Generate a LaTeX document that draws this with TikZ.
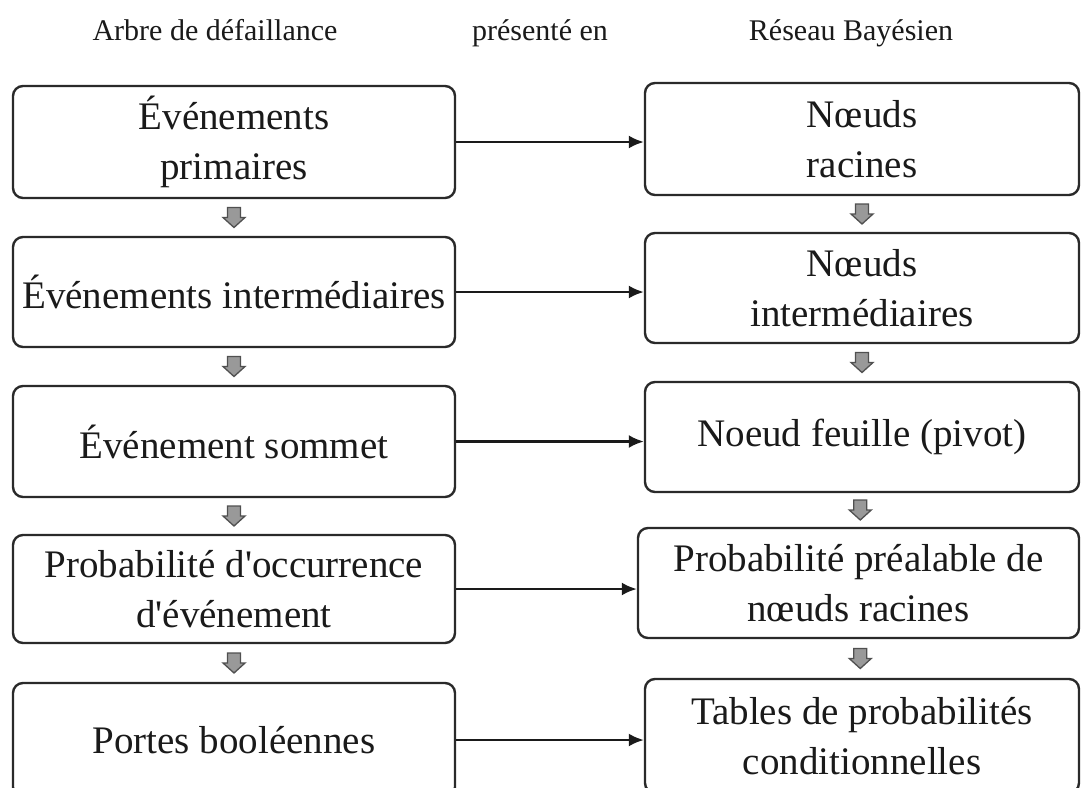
\documentclass[tikz,border=0pt]{standalone}
\usepackage{fontspec}
\setmainfont{Liberation Serif}
\usetikzlibrary{arrows.meta,calc}

\definecolor{inkc}{HTML}{1A1A1A}
\definecolor{framec}{HTML}{2A2A2A}
\definecolor{blockfill}{HTML}{999999}
\definecolor{blockline}{HTML}{505050}

\newcommand\boxtextfont{\fontsize{39}{50}\selectfont}
\newcommand\headfont{\fontsize{30}{36}\selectfont}
\newcommand\apos{\textquotesingle}

\tikzset{
  stepbox/.style={draw=framec, line width=2.4pt, rounded corners=10pt,
    align=center, font=\boxtextfont, text=inkc, inner sep=0pt},
  headtext/.style={font=\headfont, text=inkc, anchor=base, inner sep=0pt},
  downblock/.style={draw=blockline, fill=blockfill, line width=1.3pt,
    line join=miter},
  maps/.style={draw=inkc, line width=2.4pt, -{Latex[length=15pt,width=13pt]}}
}

\begin{document}
\begin{tikzpicture}[x=1pt, y=-1pt]
  \useasboundingbox (0,0) rectangle (1081,787);
  \fill[white] (0,0) rectangle (1081,787);
  \clip (0,0) rectangle (1081,787);

  % column headings
  \node[headtext] (hleft)  at (215,40) {Arbre de défaillance};
  \node[headtext] (hmid)   at (540,40) {présenté en};
  \node[headtext] (hright) at (851,40) {Réseau Bayésien};

  % fault tree column
  \node[stepbox, minimum width=442pt, minimum height=112pt] (l1) at (234,142)
    {Événements\\primaires};
  \node[stepbox, minimum width=442pt, minimum height=110pt] (l2) at (234,292)
    {Événements intermédiaires};
  \node[stepbox, minimum width=442pt, minimum height=111pt] (l3) at (234,441.5)
    {Événement sommet};
  \node[stepbox, minimum width=442pt, minimum height=108pt] (l4) at (234,589)
    {\fontsize{39}{45}\selectfont Probabilité d\apos occurrence\\d\apos événement};
  \node[stepbox, minimum width=442pt, minimum height=114pt] (l5) at (234,740)
    {Portes booléennes};

  % Bayesian network column
  \node[stepbox, minimum width=434pt, minimum height=112pt] (r1) at (862,139)
    {\fontsize{39}{54}\selectfont Nœuds\\racines};
  \node[stepbox, minimum width=434pt, minimum height=110pt] (r2) at (862,288)
    {\fontsize{39}{55}\selectfont Nœuds\\intermédiaires};
  \node[stepbox, minimum width=434pt, minimum height=110pt] (r3) at (862,437)
    {Noeud feuille (pivot)};
  \node[stepbox, minimum width=441pt, minimum height=110pt] (r4) at (858.5,583)
    {\fontsize{39}{41}\selectfont Probabilité préalable de\\nœuds racines};
  \node[stepbox, minimum width=434pt, minimum height=114pt] (r5) at (862,736)
    {\fontsize{39}{42}\selectfont Tables de probabilités\\conditionnelles};

  % downward block arrows between successive steps
  \foreach \a/\b in {l1/l2, l2/l3, l3/l4, l4/l5, r1/r2, r2/r3, r3/r4, r4/r5} {
    \coordinate (d-\a) at ($(\a.south)!0.5!(\b.north)+(0,0)$);
    \draw[downblock, shift={(d-\a)}]
      (-6.5,-10) -- (6.5,-10) -- (6.5,0) -- (11,0) -- (0,10)
      -- (-11,0) -- (-6.5,0) -- cycle;
  }

  % correspondences between the two columns
  \draw[maps] (l1.east) -- (l1.east -| r1.west);
  \draw[maps] (l2.east) -- (l2.east -| r2.west);
  \draw[maps] (l3.east) -- (l3.east -| r3.west);
  \draw[maps] (l4.east) -- (l4.east -| r4.west);
  \draw[maps] (l5.east) -- (l5.east -| r5.west);
\end{tikzpicture}
\end{document}
